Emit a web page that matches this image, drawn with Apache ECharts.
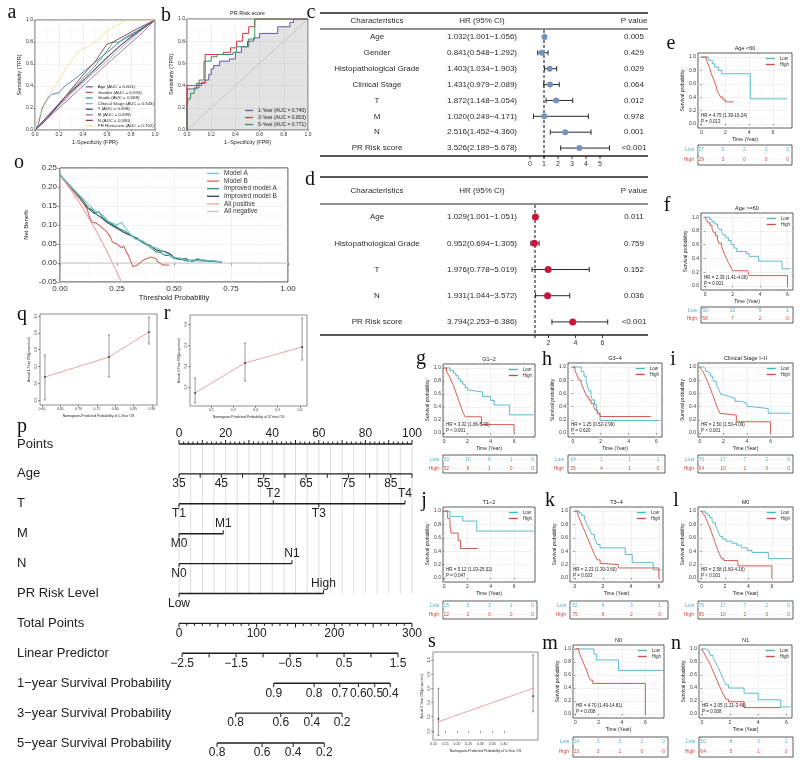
<!DOCTYPE html>
<html><head><meta charset="utf-8">
<script src="https://cdn.jsdelivr.net/npm/echarts@6/dist/echarts.min.js"></script>
<style>html,body{margin:0;padding:0;background:#fff}#c{width:800px;height:761px}</style>
</head><body><div id="c"></div>
<script>
// ======================= DATA =======================
// --- a: ROC of clinical features ---
const rocA_names = ['Age (AUC = 0.601)','Gender (AUC = 0.555)','Grade (AUC = 0.568)','Clinical Stage (AUC = 0.543)','T (AUC = 0.558)','M (AUC = 0.499)','N (AUC = 0.590)','PR Riskscore (AUC = 0.702)'];
const rocA_age = [[0,0],[0.03,0.06],[0.06,0.2],[0.1,0.28],[0.13,0.32],[0.2,0.34],[0.25,0.4],[0.35,0.48],[0.45,0.57],[0.55,0.66],[0.65,0.75],[0.75,0.84],[0.85,0.9],[1,1]];
const rocA_gender = [[0,0],[0.1,0.12],[0.3,0.34],[0.5,0.55],[0.7,0.76],[0.85,0.88],[1,1]];
const rocA_grade = [[0,0],[0.1,0.1],[0.25,0.3],[0.4,0.47],[0.5,0.58],[0.6,0.72],[0.65,0.8],[0.7,0.8],[0.8,0.86],[1,1]];
const rocA_stage = [[0,0],[0.15,0.16],[0.3,0.33],[0.5,0.53],[0.7,0.73],[0.9,0.92],[1,1]];
const rocA_T = [[0,0],[0.1,0.12],[0.25,0.3],[0.4,0.45],[0.6,0.66],[0.8,0.85],[1,1]];
const rocA_M = [[0,0],[0.3,0.3],[0.6,0.6],[0.9,0.89],[1,1]];
const rocA_N = [[0,0],[0.1,0.1],[0.25,0.3],[0.4,0.5],[0.5,0.62],[0.6,0.78],[0.65,0.8],[0.75,0.86],[0.85,0.92],[1,1]];
const rocA_PR = [[0,0],[0.01,0.06],[0.03,0.12],[0.05,0.15],[0.08,0.22],[0.1,0.27],[0.13,0.3],[0.15,0.38],[0.2,0.45],[0.25,0.55],[0.27,0.58],[0.3,0.62],[0.35,0.7],[0.4,0.74],[0.45,0.76],[0.5,0.8],[0.55,0.84],[0.6,0.9],[0.65,0.93],[0.7,0.96],[0.76,1],[1,1]];
const rocTicks = [0,0.2,0.4,0.6,0.8,1];

// --- b: time-dependent ROC of PR Risk score ---
const rocB_names = ['1-Year (AUC = 0.740)','3-Year (AUC = 0.803)','5-Year (AUC = 0.771)'];
const rocB_1y = [[0,0],[0,0.37],[0.08,0.42],[0.15,0.45],[0.18,0.5],[0.2,0.55],[0.22,0.58],[0.27,0.62],[0.35,0.64],[0.4,0.7],[0.45,0.75],[0.5,0.8],[0.55,0.83],[0.6,0.87],[0.75,0.93],[0.85,0.97],[0.88,1],[1,1]];
const rocB_3y = [[0,0],[0,0.4],[0.12,0.43],[0.15,0.68],[0.3,0.7],[0.36,0.74],[0.41,0.8],[0.46,0.87],[0.51,0.93],[0.56,1],[1,1]];
const rocB_5y = [[0,0],[0,0.2],[0.01,0.28],[0.03,0.33],[0.06,0.38],[0.1,0.45],[0.14,0.62],[0.2,0.66],[0.25,0.68],[0.38,0.7],[0.41,0.75],[0.51,0.82],[0.56,1],[1,1]];
const rocB_diag = [[0,0],[1,1]];

// --- c: univariate Cox ---
const cVars = ['Age','Gender','Histopathological Grade','Clinical Stage','T','M','N','PR Risk score'];
const cHR = [1.032,0.841,1.403,1.431,1.872,1.020,2.516,3.526];
const cLow = [1.001,0.548,1.034,0.979,1.148,0.249,1.452,2.189];
const cHigh = [1.056,1.292,1.903,2.089,3.054,4.171,4.360,5.678];
const cP = ['0.005','0.429','0.029','0.064','0.012','0.978','0.001','<0.001'];
const cTicks = [0,1,2,3,4,5];

// --- d: multivariate Cox ---
const dVars = ['Age','Histopathological Grade','T','N','PR Risk score'];
const dHR = [1.029,0.952,1.976,1.931,3.794];
const dLow = [1.001,0.694,0.778,1.044,2.253];
const dHigh = [1.051,1.305,5.019,3.572,6.386];
const dP = ['0.011','0.759','0.152','0.036','<0.001'];
const dTicks = [2,4,6];

// --- KM panels (e..n) ---
const kmTimeTicks = [0,2,4,6];
const kmSurvTicks = [0,0.2,0.4,0.6,0.8,1];
const riskTimes5 = [0,2,4,6,8];
const riskTimes4 = [0,2,4,6];
const e_low = [[0,1],[0.6,0.95],[0.9,0.9],[1.1,0.85],[1.4,0.8],[1.7,0.75],[4.1,0.375],[7.2,0.375]];
const e_high = [[0,1],[0.4,0.95],[0.55,0.9],[0.65,0.85],[0.75,0.8],[0.8,0.75],[0.95,0.7],[1.05,0.65],[1.15,0.6],[1.25,0.55],[1.3,0.5],[1.45,0.45],[1.6,0.4],[1.8,0.36],[2.0,0.33],[2.7,0.33]];
const f_low = [[0,1],[0.3,0.97],[0.5,0.93],[0.7,0.9],[0.9,0.86],[1.0,0.82],[1.2,0.78],[1.3,0.74],[1.5,0.7],[1.7,0.66],[1.9,0.6],[2.1,0.55],[2.3,0.5],[3.0,0.47],[3.2,0.43],[3.9,0.36],[5.6,0.25],[6.2,0.25]];
const f_high = [[0,1],[0.1,0.96],[0.2,0.92],[0.35,0.88],[0.5,0.83],[0.6,0.78],[0.75,0.73],[0.9,0.68],[1.0,0.62],[1.2,0.57],[1.3,0.52],[1.4,0.47],[1.5,0.42],[1.6,0.38],[1.7,0.34],[1.8,0.3],[1.9,0.26],[2.0,0.22],[3.1,0.2],[3.2,0.15],[6.0,0.15],[6.0,0]];
const g_low = [[0,1],[0.5,0.96],[0.8,0.92],[1.0,0.88],[1.2,0.83],[1.4,0.79],[1.6,0.75],[1.8,0.7],[2.0,0.66],[2.2,0.63],[3.3,0.56],[4.0,0.5],[4.3,0.43],[5.6,0.28],[7.7,0.28]];
const g_high = [[0,1],[0.2,0.95],[0.35,0.9],[0.5,0.85],[0.6,0.8],[0.75,0.75],[0.85,0.7],[0.95,0.65],[1.05,0.6],[1.15,0.55],[1.25,0.5],[1.35,0.45],[1.45,0.4],[1.55,0.35],[1.65,0.3],[1.8,0.25],[3.2,0.13],[6.0,0.13],[6.0,0]];
const h_low = [[0,1],[0.6,0.93],[0.8,0.86],[0.95,0.79],[1.05,0.71],[1.15,0.64],[1.3,0.57],[1.4,0.5],[1.55,0.43],[1.7,0.36],[1.8,0.29],[1.95,0.19],[6.3,0.19]];
const h_high = [[0,1],[0.15,0.95],[0.25,0.9],[0.35,0.85],[0.45,0.8],[0.6,0.75],[0.7,0.7],[0.8,0.65],[0.9,0.6],[1.0,0.55],[1.15,0.5],[1.3,0.45],[1.5,0.4],[1.6,0.35],[1.75,0.3],[1.95,0.25],[5.6,0.25]];
const i_low = [[0,1],[0.3,0.97],[0.5,0.93],[0.7,0.9],[0.9,0.86],[1.1,0.82],[1.2,0.78],[1.4,0.74],[1.5,0.7],[1.6,0.66],[1.7,0.62],[1.8,0.58],[2.0,0.55],[2.6,0.52],[3.0,0.48],[3.5,0.45],[4.0,0.4],[4.4,0.37],[5.8,0.3],[7.7,0.3]];
const i_high = [[0,1],[0.15,0.96],[0.3,0.92],[0.4,0.88],[0.5,0.84],[0.6,0.8],[0.7,0.76],[0.8,0.72],[0.9,0.67],[1.0,0.62],[1.1,0.58],[1.2,0.53],[1.3,0.48],[1.4,0.43],[1.5,0.38],[1.6,0.34],[1.7,0.3],[1.85,0.27],[3.1,0.17],[6.0,0.17],[6.0,0]];
const j_low = [[0,1],[0.5,0.92],[1.6,0.85],[2.8,0.7],[7.7,0.7]];
const j_high = [[0,1],[0.3,0.89],[0.5,0.78],[0.6,0.67],[1.2,0.56],[1.4,0.44],[2.9,0.44]];
const k_low = [[0,1],[0.3,0.97],[0.5,0.93],[0.7,0.88],[0.8,0.83],[0.9,0.78],[1.0,0.74],[1.1,0.7],[1.2,0.65],[1.4,0.6],[1.5,0.55],[1.6,0.5],[1.8,0.45],[3.6,0.35],[4.1,0.23],[5.6,0.12],[6.2,0.12]];
const k_high = [[0,1],[0.2,0.95],[0.3,0.9],[0.4,0.85],[0.5,0.8],[0.6,0.75],[0.7,0.7],[0.8,0.65],[0.9,0.6],[1.0,0.55],[1.1,0.5],[1.2,0.45],[1.3,0.4],[1.4,0.35],[1.5,0.31],[1.6,0.27],[1.8,0.22],[1.9,0.2],[3.1,0.15],[6.0,0.15],[6.0,0]];
const l_low = [[0,1],[0.3,0.97],[0.5,0.94],[0.7,0.9],[0.9,0.86],[1.0,0.82],[1.2,0.78],[1.3,0.74],[1.4,0.7],[1.5,0.66],[1.6,0.62],[1.8,0.58],[2.1,0.55],[2.6,0.52],[3.0,0.49],[3.4,0.45],[3.9,0.41],[4.3,0.38],[5.7,0.29],[7.7,0.29]];
const l_high = [[0,1],[0.15,0.96],[0.3,0.92],[0.4,0.88],[0.5,0.84],[0.6,0.8],[0.7,0.76],[0.8,0.71],[0.9,0.66],[1.0,0.61],[1.1,0.56],[1.2,0.51],[1.3,0.46],[1.4,0.41],[1.5,0.37],[1.6,0.33],[1.7,0.29],[1.9,0.26],[3.1,0.18],[6.0,0.18],[6.0,0]];
const m_low = [[0,1],[1.6,0.92],[1.8,0.83],[3.7,0.67],[7.6,0.67]];
const m_high = [[0,1],[0.3,0.96],[0.4,0.91],[0.5,0.87],[0.6,0.83],[0.7,0.78],[0.8,0.74],[0.9,0.7],[1.0,0.65],[1.1,0.6],[1.2,0.56],[1.3,0.52],[1.5,0.47],[6.0,0.47],[6.0,0]];
const n_low = [[0,1],[0.3,0.97],[0.5,0.94],[0.6,0.9],[0.8,0.86],[0.9,0.82],[1.0,0.78],[1.1,0.74],[1.2,0.7],[1.3,0.65],[1.4,0.6],[1.5,0.55],[1.6,0.5],[1.7,0.45],[1.9,0.4],[3.0,0.32],[4.0,0.22],[5.6,0.11],[6.3,0.11]];
const n_high = [[0,1],[0.1,0.96],[0.2,0.92],[0.3,0.88],[0.4,0.84],[0.5,0.8],[0.6,0.76],[0.7,0.71],[0.8,0.66],[0.9,0.61],[1.0,0.56],[1.1,0.51],[1.2,0.46],[1.3,0.41],[1.4,0.36],[1.5,0.31],[1.6,0.27],[1.7,0.23],[1.9,0.19],[3.0,0.1],[5.6,0.1]];
const e_risk_low = [27,5,2,1,0], e_risk_high = [29,3,0,0,0];
const f_risk_low = [50,10,5,1], f_risk_high = [58,7,2,0];
const g_risk_low = [53,10,6,1,0], g_risk_high = [52,6,1,0,0];
const h_risk_low = [14,1,1,1], h_risk_high = [35,4,1,0];
const i_risk_low = [70,17,7,2,0], i_risk_high = [64,10,2,0,0];
const j_risk_low = [15,3,3,1,0], j_risk_high = [12,2,0,0,0];
const k_risk_low = [52,6,3,1], k_risk_high = [75,6,2,0];
const l_risk_low = [75,17,7,2,0], l_risk_high = [85,10,2,0,0];
const m_risk_low = [24,3,3,1,0], m_risk_high = [23,3,1,0,0];
const n_risk_low = [50,8,3,1], n_risk_high = [64,5,1,0];
const kmTitles = {e:'Age <60', f:'Age >=60', g:'G1~2', h:'G3~4', i:'Clinical Stage I~II', j:'T1~2', k:'T3~4', l:'M0', m:'N0', n:'N1'};
const kmHR = {e:'HR = 4.75 (1.39-16.24)', f:'HR = 2.39 (1.41-4.06)', g:'HR = 3.32 (1.86-5.90)', h:'HR = 1.25 (0.52-2.99)', i:'HR = 2.50 (1.50-4.09)', j:'HR = 5.12 (1.03-25.02)', k:'HR = 2.23 (1.30-3.60)', l:'HR = 2.58 (1.60-4.16)', m:'HR = 4.70 (1.49-14.81)', n:'HR = 2.05 (1.21-3.46)'};
const kmP = {e:'P = 0.013', f:'P = 0.001', g:'P < 0.001', h:'P = 0.620', i:'P < 0.001', j:'P = 0.047', k:'P = 0.003', l:'P < 0.001', m:'P = 0.008', n:'P = 0.008'};

// --- o: decision curve analysis ---
const dca_modelA = [[0,0.232],[0.05,0.2],[0.1,0.17],[0.13,0.15],[0.16,0.135],[0.19,0.125],[0.21,0.11],[0.23,0.105],[0.25,0.1],[0.27,0.107],[0.29,0.09],[0.31,0.075],[0.33,0.062],[0.36,0.06],[0.39,0.045],[0.42,0.04],[0.45,0.032],[0.48,0.02],[0.5,0.015],[0.53,0.013],[0.56,0.008],[0.59,0.004],[0.6,0.012],[0.63,0.008],[0.67,0.006],[0.71,0.003]];
const dca_modelB = [[0,0.232],[0.05,0.195],[0.1,0.16],[0.12,0.14],[0.13,0.12],[0.14,0.108],[0.16,0.105],[0.18,0.095],[0.2,0.085],[0.22,0.07],[0.23,0.055],[0.25,0.05],[0.27,0.04],[0.28,0.045],[0.29,0.03],[0.3,0.02],[0.31,0.005],[0.32,-0.01],[0.34,-0.005],[0.36,0.005],[0.38,0.012],[0.4,0.016],[0.42,0.012],[0.43,0.003],[0.45,-0.005],[0.48,-0.006]];
const dca_impA = [[0,0.232],[0.05,0.2],[0.1,0.165],[0.13,0.14],[0.15,0.13],[0.17,0.135],[0.19,0.118],[0.21,0.11],[0.24,0.098],[0.26,0.09],[0.28,0.085],[0.3,0.078],[0.32,0.07],[0.34,0.065],[0.36,0.055],[0.38,0.048],[0.4,0.04],[0.42,0.03],[0.44,0.028],[0.46,0.02],[0.48,0.02],[0.5,0.012],[0.53,0.01],[0.56,0.005],[0.58,0.008],[0.6,0.006],[0.65,0.005],[0.71,0.003]];
const dca_impB = [[0,0.232],[0.05,0.198],[0.1,0.16],[0.12,0.145],[0.14,0.14],[0.16,0.128],[0.18,0.12],[0.2,0.11],[0.22,0.102],[0.24,0.095],[0.26,0.088],[0.28,0.08],[0.3,0.075],[0.32,0.07],[0.34,0.063],[0.36,0.055],[0.38,0.05],[0.4,0.045],[0.42,0.035],[0.44,0.032],[0.46,0.03],[0.48,0.025],[0.5,0.015],[0.52,0.01],[0.55,0.012],[0.58,0.004],[0.6,0.01],[0.65,0.006],[0.71,0.003]];
const dca_allPos = [[0,0.232],[0.05,0.19],[0.1,0.145],[0.15,0.094],[0.2,0.038],[0.25,-0.025],[0.27,-0.05]];
const dca_allNeg = [[0,0],[1,0]];
const dca_names = ['Model A','Model B','Improved model A','Improved model B','All positive','All negative'];
const dcaXTicks = [0,0.25,0.5,0.75,1];
const dcaYTicks = [-0.05,0,0.05,0.1,0.15,0.2,0.25];

// --- q, r, s: calibration ---
const calQ_pred = [0.608,0.783,0.892], calQ_obs = [0.637,0.756,0.905], calQ_lo = [0.5,0.637,0.833], calQ_hi = [0.768,0.887,0.994];
const calR_pred = [0.128,0.353,0.61], calR_obs = [0.143,0.429,0.581], calR_lo = [0.048,0.257,0.457], calR_hi = [0.286,0.619,0.857];
const calS_pred = [0.121,0.524], calS_obs = [0.17,0.49], calS_lo = [-0.06,0.27], calS_hi = [0.6,1.07], calS_line = [0.13,0.6];
const calQ_xTicks = [0.6,0.65,0.7,0.75,0.8,0.85,0.9], calQ_yTicks = [0.5,0.6,0.7,0.8,0.9,1.0];
const calR_xTicks = [0.2,0.3,0.4,0.5,0.6], calR_yTicks = [0.2,0.4,0.6,0.8];
const calS_xTicks = [0.1,0.15,0.2,0.25,0.3,0.35,0.4], calS_yTicks = [0,0.2,0.4,0.6,0.8,1.0];

// --- p: nomogram ---
const nomoRows = ['Points','Age','T','M','N','PR Risk Level','Total Points','Linear Predictor','1\u2212year Survival Probability','3\u2212year Survival Probability','5\u2212year Survival Probability'];
const pointsLabels = [0,20,40,60,80,100];
const ageRange = [35,90];
const ageLabels = [35,45,55,65,75,85];
const tLevels = ['T1','T2','T3','T4'], tPoints = [0,40.5,60,97];
const mLevels = ['M0','M1'], mPoints = [0,19];
const nLevels = ['N0','N1'], nPoints = [0,48.5];
const prLevels = ['Low','High'], prPoints = [0,62];
const totalLabels = [0,100,200,300];
const lpLabels = [-2.5,-1.5,-0.5,0.5,1.5];
const lpRange = [-2.5,1.5], lpTotalRange = [4,282];
const surv1Labels = ['0.9','0.8','0.7','0.6','0.5','0.4'], surv1Total = [122,174,207,231,252,272];
const surv3Labels = ['0.8','0.6','0.4','0.2'], surv3Total = [73,131,171,210];
const surv5Labels = ['0.8','0.6','0.4','0.2'], surv5Total = [49,107,147,187];

// ======================= BUILD =======================
const SANS = '"Liberation Sans", Arial, Helvetica, sans-serif';
const SERIF = '"Liberation Serif", "Times New Roman", serif';
const KM_LOW = '#4fb3c6', KM_HIGH = '#cf4b3d';
const grids = [], xAxes = [], yAxes = [], series = [], legends = [], graphics = [];

function addGrid(b, extra){ grids.push(Object.assign({left:b[0], top:b[1], width:b[2]-b[0], height:b[3]-b[1], containLabel:false, outerBoundsMode:'none', show:false}, extra||{})); return grids.length-1; }
function addX(o){ xAxes.push(o); return xAxes.length-1; }
function addY(o){ yAxes.push(o); return yAxes.length-1; }
function txt(x, y, s, o){ o = o||{}; const al = o.align||'center'; const va = o.va||'middle';
  graphics.push({type:'text', x:x, y:y, silent:true, z:100, rotation:o.rot||0,
    style:{text:s, fill:o.fill||'#222', fontSize:o.fs||8, fontFamily:o.ff||SANS, fontWeight:o.fw||'normal', align:al, textAlign:al, verticalAlign:va, textVerticalAlign:va}}); }
function hline(x1, x2, y, w, c){ graphics.push({type:'line', silent:true, z:100, shape:{x1:x1, y1:y, x2:x2, y2:y}, style:{stroke:c||'#222', lineWidth:w||1}}); }
function letter(x, y, s){ txt(x, y, s, {fs:20, ff:SERIF, fill:'#111'}); }
function near(v, ticks){ return ticks.some(t => Math.abs(t - v) < 1e-6); }
function lineLegend(o){ return Object.assign({icon:'rect', itemHeight:1.3, orient:'vertical', padding:0, selectedMode:false}, o); }

function valAxis(gi, dim, o){
  const ax = {
    gridIndex:gi, type:'value', min:o.min, max:o.max, silent:true,
    axisLine:{show:false},
    axisTick:{show:true, length:o.tickLen||1.5, inside:false, lineStyle:{color:'#333', width:0.5}, customValues:o.ticks},
    axisLabel:{show:true, fontSize:o.fs, color:'#333', fontFamily:SANS, margin:o.margin||2, rotate:o.rotate||0, customValues:o.ticks,
      formatter:(v)=> near(v, o.ticks) ? o.fmt(v) : ''},
    splitLine:{show:!!o.grid, lineStyle:{color:'#e2e2e2', width:0.5}},
    minorTick:{show:false, splitNumber:2},
    minorSplitLine:{show:!!o.grid, lineStyle:{color:'#f1f1f1', width:0.4}},
    name:o.name||'', nameLocation:'middle', nameGap:o.nameGap||10, nameRotate: dim==='y' ? 90 : 0,
    nameTextStyle:{fontSize:o.nfs||o.fs, color:'#222', fontFamily:SANS}, nameMoveOverlap:false
  };
  if (o.interval) ax.interval = o.interval; else ax.splitNumber = o.split||5;
  return dim==='x' ? addX(ax) : addY(ax);
}

// ---------- a ----------
(function(){
  const box = [35,20,155,130];
  const g = addGrid(box, {show:true, borderColor:'#333', borderWidth:0.8});
  const xi = valAxis(g,'x',{min:0,max:1,interval:0.2,ticks:rocTicks,fmt:v=>v.toFixed(1),fs:5,grid:true,name:'1-Specificity (FPR)',nameGap:9,nfs:5.5});
  const yi = valAxis(g,'y',{min:0,max:1,interval:0.2,ticks:rocTicks,fmt:v=>v.toFixed(1),fs:5,grid:true,name:'Sensitivity (TPR)',nameGap:13,nfs:5.5});
  const curves = [rocA_age, rocA_gender, rocA_grade, rocA_stage, rocA_T, rocA_M, rocA_N, rocA_PR];
  const cols = ['#4f74a8','#d3514c','#3f9e8f','#86abc9','#394a6a','#9c6f9e','#8a3b46','#f0df92'];
  curves.forEach((d,i)=> series.push({type:'line', name:rocA_names[i], xAxisIndex:xi, yAxisIndex:yi, data:d, symbol:'none', silent:true,
    lineStyle:{color:cols[i], width:0.9}, itemStyle:{color:cols[i]}, z:3}));
  legends.push(lineLegend({data:rocA_names, right:800-box[2]+1, bottom:761-box[3]+2, itemWidth:7, itemGap:1.6,
    textStyle:{fontSize:4.4, color:'#222', fontFamily:SANS}}));
  letter(12,13,'a');
})();

// ---------- b ----------
(function(){
  const box = [187,19,308,130];
  const g = addGrid(box, {show:true, borderColor:'#333', borderWidth:0.8});
  const xi = valAxis(g,'x',{min:0,max:1,interval:0.2,ticks:rocTicks,fmt:v=>v.toFixed(1),fs:5,grid:true,name:'1\u2212Specificity (FPR)',nameGap:9,nfs:5.5});
  const yi = valAxis(g,'y',{min:0,max:1,interval:0.2,ticks:rocTicks,fmt:v=>v.toFixed(1),fs:5,grid:true,name:'Sensitivity (TPR)',nameGap:13,nfs:5.5});
  series.push({type:'line', name:'diag', xAxisIndex:xi, yAxisIndex:yi, data:rocB_diag, symbol:'none', silent:true, lineStyle:{color:'#bdbdbd', width:0.6}, z:2});
  const curves = [rocB_1y, rocB_3y, rocB_5y];
  const cols = ['#5d58a6','#d8343b','#3e8c61'];
  curves.forEach((d,i)=> series.push({type:'line', name:rocB_names[i], xAxisIndex:xi, yAxisIndex:yi, data:d, step:'end', symbol:'none', silent:true,
    lineStyle:{color:cols[i], width:1}, itemStyle:{color:cols[i]}, z:3+i,
    areaStyle: i===0 ? {color:'rgba(150,150,150,0.38)'} : undefined}));
  legends.push(lineLegend({data:rocB_names, right:800-box[2]+2, bottom:761-box[3]+3, itemWidth:8, itemGap:2,
    textStyle:{fontSize:5, color:'#222', fontFamily:SANS}}));
  txt((box[0]+box[2])/2, 13, 'PR Risk score', {fs:5.5});
  letter(166,16,'b');
})();

// ---------- forest c, d ----------
function forest(cfg){
  const g = addGrid(cfg.box, {show:false});
  const xi = addX({gridIndex:g, type:'value', min:0, max:cfg.xmax, show:false});
  const yi = addY({gridIndex:g, type:'category', data:cfg.vars, inverse:true, show:false});
  const data = cfg.vars.map((v,i)=>[cfg.hr[i], i, cfg.lo[i], cfg.hi[i]]);
  series.push({type:'custom', xAxisIndex:xi, yAxisIndex:yi, data:data, silent:true, z:5, renderItem:(pa, api)=>{
    const i = api.value(1);
    const c = api.coord([api.value(0), i]), l = api.coord([api.value(2), i]), h = api.coord([api.value(3), i]);
    const y = c[1];
    const st = {stroke:'#2b2b2b', lineWidth:1};
    const tstyle = (s)=>({text:s, fill:'#2b2b2b', fontSize:8, fontFamily:SANS, align:'center', verticalAlign:'middle'});
    const hrStr = cfg.hr[i].toFixed(3)+'('+cfg.lo[i].toFixed(3)+'\u2212'+cfg.hi[i].toFixed(3)+')';
    return {type:'group', children:[
      {type:'line', shape:{x1:l[0], y1:y, x2:h[0], y2:y}, style:st},
      {type:'line', shape:{x1:l[0], y1:y-2.6, x2:l[0], y2:y+2.6}, style:st},
      {type:'line', shape:{x1:h[0], y1:y-2.6, x2:h[0], y2:y+2.6}, style:st},
      {type:'circle', shape:{cx:c[0], cy:y, r:cfg.r}, style:{fill:cfg.color}},
      {type:'text', x:cfg.col[0], y:y, style:tstyle(cfg.vars[i])},
      {type:'text', x:cfg.col[1], y:y, style:tstyle(hrStr)},
      {type:'text', x:cfg.col[2], y:y, style:tstyle(cfg.p[i])}
    ]};
  }});
  series.push({type:'custom', xAxisIndex:xi, yAxisIndex:yi, data:[[1,0]], silent:true, z:4, renderItem:(pa, api)=>{
    const cs = pa.coordSys; const x = api.coord([1,0])[0];
    return {type:'line', shape:{x1:x, y1:cs.y+1, x2:x, y2:cs.y+cs.height+3}, style:{stroke:'#222', lineWidth:1.1, lineDash:[3,2]}};
  }});
  series.push({type:'custom', xAxisIndex:xi, yAxisIndex:yi, data:cfg.ticks.map(t=>[t,0]), silent:true, z:5, renderItem:(pa, api)=>{
    const cs = pa.coordSys; const x = api.coord([api.value(0),0])[0]; const yb = cs.y+cs.height;
    return {type:'group', children:[
      {type:'line', shape:{x1:x, y1:yb, x2:x, y2:yb+3}, style:{stroke:'#222', lineWidth:0.9}},
      {type:'text', x:x, y:yb+8, style:{text:String(api.value(0)), fill:'#333', fontSize:7, fontFamily:SANS, align:'center', verticalAlign:'middle'}}
    ]};
  }});
  const [l,t,r,b] = cfg.box;
  hline(320, 648, cfg.topLine, 1.3);
  hline(320, 648, t, 1.1);
  hline(320, 648, b, 1.3);
  const hy = (cfg.topLine + t)/2;
  txt(cfg.col[0], hy, 'Characteristics', {fs:8, fill:'#2b2b2b'});
  txt(cfg.col[1], hy, 'HR (95% CI)', {fs:8, fill:'#2b2b2b'});
  txt(cfg.col[2], hy, 'P value', {fs:8, fill:'#2b2b2b'});
}
forest({box:[530,29,642,156], xmax:8, vars:cVars, hr:cHR, lo:cLow, hi:cHigh, p:cP, ticks:cTicks, color:'#7192b9', r:3, col:[377,482,634], topLine:13});
forest({box:[521.5,204,643,335], xmax:9, vars:dVars, hr:dHR, lo:dLow, hi:dHigh, p:dP, ticks:dTicks, color:'#c8153c', r:3.5, col:[377,482,634], topLine:177});
letter(311,13,'c');
letter(310,180,'d');

// ---------- KM panels ----------
function km(P){
  const [l,t,r,b] = P.box;
  const g = addGrid(P.box, {show:true, borderColor:'#333', borderWidth:0.8});
  const xi = valAxis(g,'x',{min:P.xr[0], max:P.xr[1], split:4, ticks:kmTimeTicks, fmt:v=>String(Math.round(v)), fs:5, grid:true, name:'Time (Year)', nameGap:9.5, nfs:5});
  const yi = valAxis(g,'y',{min:-0.06, max:1.06, split:5, ticks:kmSurvTicks, fmt:v=>v.toFixed(1), fs:5, grid:true, name:'Survival probability', nameGap:13, nfs:5});
  series.push({type:'line', name:'Low', xAxisIndex:xi, yAxisIndex:yi, data:P.low, step:'end', symbol:'none', silent:true, lineStyle:{color:KM_LOW, width:0.9}, itemStyle:{color:KM_LOW}, z:3});
  series.push({type:'line', name:'High', xAxisIndex:xi, yAxisIndex:yi, data:P.high, step:'end', symbol:'none', silent:true, lineStyle:{color:KM_HIGH, width:0.9}, itemStyle:{color:KM_HIGH}, z:4});
  legends.push(lineLegend({data:['Low','High'], right:800-r+3, top:t+3, itemWidth:9, itemGap:1,
    textStyle:{fontSize:4.5, color:'#333', fontFamily:SANS}}));
  txt(l+3, b-12, kmHR[P.id], {fs:4.5, align:'left'});
  txt(l+3, b-6, kmP[P.id], {fs:4.5, align:'left'});
  txt((l+r)/2, t-5, kmTitles[P.id], {fs:5.5});
  letter(P.letter[0], P.letter[1], P.id);
  const g2 = addGrid(P.risk, {show:true, borderColor:'#333', borderWidth:0.8});
  const rx = addX({gridIndex:g2, type:'value', min:P.rxr[0], max:P.rxr[1], show:false});
  const ry = addY({gridIndex:g2, type:'category', data:['Low','High'], inverse:true, axisLine:{show:false}, axisTick:{show:false}, splitLine:{show:false},
    axisLabel:{fontSize:5, margin:4, fontFamily:SANS, color:(v)=> v==='Low' ? KM_LOW : KM_HIGH}});
  const rows = [];
  P.times.forEach((tm,i)=>{ rows.push([tm,0,P.rl[i]]); rows.push([tm,1,P.rh[i]]); });
  series.push({type:'custom', xAxisIndex:rx, yAxisIndex:ry, data:[[P.rxr[0],0],[P.rxr[0],1]], silent:true, z:2, renderItem:(pa, api)=>{
    const cs = pa.coordSys; const y = api.coord([api.value(0), api.value(1)])[1];
    return {type:'line', shape:{x1:cs.x, y1:y, x2:cs.x+cs.width, y2:y}, style:{stroke:'#e6e6e6', lineWidth:0.5}};
  }});
  series.push({type:'custom', xAxisIndex:rx, yAxisIndex:ry, data:rows, silent:true, z:3, renderItem:(pa, api)=>{
    const c = api.coord([api.value(0), api.value(1)]);
    return {type:'text', x:c[0], y:c[1], style:{text:String(api.value(2)), fill: api.value(1)===0 ? KM_LOW : KM_HIGH, fontSize:5, fontFamily:SANS, align:'center', verticalAlign:'middle', backgroundColor:'#fff'}};
  }});
}
km({id:'e', box:[698,53,792,128], xr:[-0.3,7.6], risk:[698,145,792,165], rxr:[-0.3,8.4], times:riskTimes5, low:e_low, high:e_high, rl:e_risk_low, rh:e_risk_high, letter:[671,44]});
km({id:'f', box:[701,213,793,290], xr:[-0.3,6.4], risk:[701,307,793,323], rxr:[-0.3,6.4], times:riskTimes4, low:f_low, high:f_high, rl:f_risk_low, rh:f_risk_high, letter:[667,206]});
km({id:'g', box:[443,364,535,437], xr:[-0.1,7.8], risk:[443,455,537,473], rxr:[-0.3,8.4], times:riskTimes5, low:g_low, high:g_high, rl:g_risk_low, rh:g_risk_high, letter:[421,359]});
km({id:'h', box:[568,363,662,437], xr:[-0.35,6.4], risk:[568,455,665,473], rxr:[-0.35,6.5], times:riskTimes4, low:h_low, high:h_high, rl:h_risk_low, rh:h_risk_high, letter:[547,360]});
km({id:'i', box:[698,363,793,437], xr:[-0.15,7.9], risk:[698,455,793,473], rxr:[-0.3,8.4], times:riskTimes5, low:i_low, high:i_high, rl:i_risk_low, rh:i_risk_high, letter:[673,360]});
km({id:'j', box:[443,507,535,582], xr:[-0.1,7.8], risk:[443,601,537,619], rxr:[-0.3,8.4], times:riskTimes5, low:j_low, high:j_high, rl:j_risk_low, rh:j_risk_high, letter:[424,501]});
km({id:'k', box:[570,507,663,582], xr:[-0.35,6.3], risk:[570,601,668,619], rxr:[-0.35,6.6], times:riskTimes4, low:k_low, high:k_high, rl:k_risk_low, rh:k_risk_high, letter:[550,501]});
km({id:'l', box:[698,507,793,582], xr:[-0.3,7.8], risk:[698,601,793,619], rxr:[-0.3,8.4], times:riskTimes5, low:l_low, high:l_high, rl:l_risk_low, rh:l_risk_high, letter:[676,501]});
km({id:'m', box:[573,645,664,718], xr:[-0.2,7.6], risk:[573,737,668,757], rxr:[-0.3,8.4], times:riskTimes5, low:m_low, high:m_high, rl:m_risk_low, rh:m_risk_high, letter:[550,644]});
km({id:'n', box:[699,645,792,718], xr:[-0.2,6.4], risk:[699,737,793,757], rxr:[-0.3,6.5], times:riskTimes4, low:n_low, high:n_high, rl:n_risk_low, rh:n_risk_high, letter:[676,644]});

// ---------- o: DCA ----------
(function(){
  const box = [60,168,288,282];
  const g = addGrid(box, {show:true, borderColor:'#333', borderWidth:1});
  const xi = valAxis(g,'x',{min:0,max:1,interval:0.25,ticks:dcaXTicks,fmt:v=>v.toFixed(2),fs:8,grid:true,tickLen:2.5,margin:3,name:'Threshold Probability',nameGap:12,nfs:7.5});
  const yi = valAxis(g,'y',{min:-0.05,max:0.25,interval:0.05,ticks:dcaYTicks,fmt:v=>v.toFixed(2),fs:8,grid:true,tickLen:2.5,margin:3,name:'Net Benefit',nameGap:31,nfs:6});
  const curves = [dca_modelA, dca_modelB, dca_impA, dca_impB, dca_allPos, dca_allNeg];
  const cols = ['#6fc7c9','#d3675f','#2f8f7f','#2e3d5c','#eaa3a3','#c9c3c3'];
  curves.forEach((d,i)=> series.push({type:'line', name:dca_names[i], xAxisIndex:xi, yAxisIndex:yi, data:d, symbol:'none', silent:true,
    lineStyle:{color:cols[i], width:1.1}, itemStyle:{color:cols[i]}, z: i===5 ? 2 : 6-i}));
  legends.push(lineLegend({data:dca_names, left:207, top:170, itemWidth:12, itemGap:0.6,
    textStyle:{fontSize:6.5, color:'#333', fontFamily:SANS}}));
  letter(19,163,'o');
})();

// ---------- q, r, s: calibration ----------
function calib(C){
  const g = addGrid(C.box, {show:true, borderColor:'#444', borderWidth:0.6});
  const xi = valAxis(g,'x',{min:C.xr[0],max:C.xr[1],split:6,ticks:C.xt,fmt:C.xf,fs:3.5,tickLen:2,margin:2,name:C.xname,nameGap:9,nfs:3.5});
  const yi = valAxis(g,'y',{min:C.yr[0],max:C.yr[1],split:5,ticks:C.yt,fmt:C.yf,fs:3.5,tickLen:2,margin:2,rotate:90,name:C.yname,nameGap:9,nfs:3.5});
  const lineData = C.pred.map((p,i)=>[p, C.line ? C.line[i] : C.obs[i]]);
  series.push({type:'line', xAxisIndex:xi, yAxisIndex:yi, data:lineData, symbol:'none', silent:true, lineStyle:{color:'#e69a9a', width:0.9}, z:3});
  series.push({type:'custom', xAxisIndex:xi, yAxisIndex:yi, data:C.pred.map((p,i)=>[p, C.lo[i], C.hi[i], C.obs[i]]), silent:true, z:4, renderItem:(pa, api)=>{
    const a = api.coord([api.value(0), api.value(1)]), b = api.coord([api.value(0), api.value(2)]), m = api.coord([api.value(0), api.value(3)]);
    const st = {stroke:'#555', lineWidth:0.6};
    return {type:'group', children:[
      {type:'line', shape:{x1:a[0], y1:a[1], x2:b[0], y2:b[1]}, style:st},
      {type:'line', shape:{x1:a[0]-1.2, y1:a[1], x2:a[0]+1.2, y2:a[1]}, style:st},
      {type:'line', shape:{x1:b[0]-1.2, y1:b[1], x2:b[0]+1.2, y2:b[1]}, style:st},
      {type:'circle', shape:{cx:m[0], cy:m[1], r:0.9}, style:{fill:'#333'}}
    ]};
  }});
  letter(C.letter[0], C.letter[1], C.id);
}
calib({id:'q', box:[40,314,157,405], xr:[0.5945,0.914], yr:[0.47,1.012], xt:calQ_xTicks, yt:calQ_yTicks, xf:v=>v.toFixed(2), yf:v=>v.toFixed(1),
  pred:calQ_pred, obs:calQ_obs, lo:calQ_lo, hi:calQ_hi, xname:'Nomogram-Predicted Probability of 1-Year OS', yname:'Actual 1-Year OS(proportion)', letter:[22,315]});
calib({id:'r', box:[190,315,307,406], xr:[0.105,0.632], yr:[0.019,0.886], xt:calR_xTicks, yt:calR_yTicks, xf:v=>v.toFixed(1), yf:v=>v.toFixed(1),
  pred:calR_pred, obs:calR_obs, lo:calR_lo, hi:calR_hi, xname:'Nomogram-Predicted Probability of 3-Year OS', yname:'Actual 3-Year OS(proportion)', letter:[167,314]});
calib({id:'s', box:[433,652,538,740], xr:[0.098,0.545], yr:[-0.127,1.11], xt:calS_xTicks, yt:calS_yTicks, xf:v=>v.toFixed(2), yf:v=>v.toFixed(1),
  pred:calS_pred, obs:calS_obs, lo:calS_lo, hi:calS_hi, line:calS_line, xname:'Nomogram-Predicted Probability of 5-Year OS', yname:'Actual 5-Year OS(proportion)', letter:[432,642]});

// ---------- p: nomogram ----------
(function(){
  const box = [179,444,412,743];
  const g = addGrid(box, {show:false});
  const xi = addX({gridIndex:g, type:'value', min:0, max:100, show:false});
  const yi = addY({gridIndex:g, type:'category', data:nomoRows, inverse:true, boundaryGap:false,
    axisLine:{show:false}, axisTick:{show:false}, splitLine:{show:false},
    axisLabel:{show:true, align:'left', margin:box[0]-17, fontSize:13, color:'#222', fontFamily:SANS, interval:0}});
  const ageToPts = a => (a - ageRange[0]) / (ageRange[1] - ageRange[0]) * 100;
  const totToPts = t => t / 3;
  const lpToPts = v => totToPts(lpTotalRange[0] + (v - lpRange[0]) / (lpRange[1] - lpRange[0]) * (lpTotalRange[1] - lpTotalRange[0]));
  const specs = [];
  (function(){ const s = {segs:[[0,100]], ticks:[], labels:[]};
    for (let v = 0; v <= 100; v += 2) s.ticks.push({p:v, len: v % 10 === 0 ? 4 : 2.5, dir:-1});
    pointsLabels.forEach(v => s.labels.push({p:v, t:String(v), dir:-1}));
    specs.push(s); })();
  (function(){ const s = {segs:[[0,100]], ticks:[], labels:[]};
    for (let a = ageRange[0]; a <= ageRange[1]; a += 5) s.ticks.push({p:ageToPts(a), len:4, dir:1});
    ageLabels.forEach(a => s.labels.push({p:ageToPts(a), t:String(a), dir:1}));
    specs.push(s); })();
  [[tLevels,tPoints],[mLevels,mPoints],[nLevels,nPoints],[prLevels,prPoints]].forEach(([lv,pt])=>{
    const s = {segs:[[0, Math.max.apply(null, pt)]], ticks:[], labels:[]};
    lv.forEach((name,i)=>{ const dir = i % 2 === 0 ? 1 : -1; s.ticks.push({p:pt[i], len:3.5, dir:dir}); s.labels.push({p:pt[i], t:name, dir:dir}); });
    specs.push(s);
  });
  (function(){ const s = {segs:[[0,100]], ticks:[], labels:[]};
    for (let v = 0; v <= 300; v += 10) s.ticks.push({p:totToPts(v), len: v % 50 === 0 ? 4 : 2.5, dir:1});
    totalLabels.forEach(v => s.labels.push({p:totToPts(v), t:String(v), dir:1}));
    specs.push(s); })();
  (function(){ const s = {segs:[[lpToPts(lpRange[0]), lpToPts(lpRange[1])]], ticks:[], labels:[]};
    for (let v = lpRange[0]; v <= lpRange[1] + 1e-9; v += 0.5) s.ticks.push({p:lpToPts(v), len:4, dir:1});
    lpLabels.forEach(v => s.labels.push({p:lpToPts(v), t:(v<0?'\u2212':'')+Math.abs(v).toFixed(1), dir:1}));
    specs.push(s); })();
  [[surv1Labels,surv1Total],[surv3Labels,surv3Total],[surv5Labels,surv5Total]].forEach(([lb,tt])=>{
    const s = {segs:[[totToPts(tt[0]), totToPts(tt[tt.length-1])]], ticks:[], labels:[]};
    lb.forEach((t,i)=>{ s.ticks.push({p:totToPts(tt[i]), len:4, dir:1}); s.labels.push({p:totToPts(tt[i]), t:t, dir:1}); });
    specs.push(s);
  });
  const gridPts = []; for (let v = 0; v <= 100; v += 5) gridPts.push([v, 0]);
  series.push({type:'custom', xAxisIndex:xi, yAxisIndex:yi, data:gridPts, silent:true, z:1, renderItem:(pa, api)=>{
    const a = api.coord([api.value(0), 0]), b = api.coord([api.value(0), 5]);
    return {type:'line', shape:{x1:a[0], y1:a[1], x2:b[0], y2:b[1]}, style:{stroke:'#d6d6d6', lineWidth:0.8}};
  }});
  series.push({type:'custom', xAxisIndex:xi, yAxisIndex:yi, data:nomoRows.map((n,i)=>[0,i]), silent:true, z:3, renderItem:(pa, api)=>{
    const ri = api.value(1); const sp = specs[ri];
    const y = api.coord([0, ri])[1];
    const X = p => api.coord([p, ri])[0];
    const ch = [];
    sp.segs.forEach(s => ch.push({type:'line', shape:{x1:X(s[0]), y1:y, x2:X(s[1]), y2:y}, style:{stroke:'#1e1e1e', lineWidth:1.4}}));
    sp.ticks.forEach(tk => { const x = X(tk.p); ch.push({type:'line', shape:{x1:x, y1:y, x2:x, y2:y + tk.dir*tk.len}, style:{stroke:'#1e1e1e', lineWidth:1}}); });
    sp.labels.forEach(lb => ch.push({type:'text', x:X(lb.p), y:y + lb.dir*10, style:{text:lb.t, fill:'#222', fontSize:12, fontFamily:SANS, align:'center', verticalAlign:'middle'}}));
    return {type:'group', children:ch};
  }});
  letter(22,427,'p');
})();

const chart = echarts.init(document.getElementById('c'), null, {renderer:'canvas', width:800, height:761});
chart.setOption({
  animation:false, backgroundColor:'#ffffff',
  grid:grids, xAxis:xAxes, yAxis:yAxes, series:series, legend:legends,
  graphic:{elements:graphics}, tooltip:{show:false}
});
</script></body></html>
